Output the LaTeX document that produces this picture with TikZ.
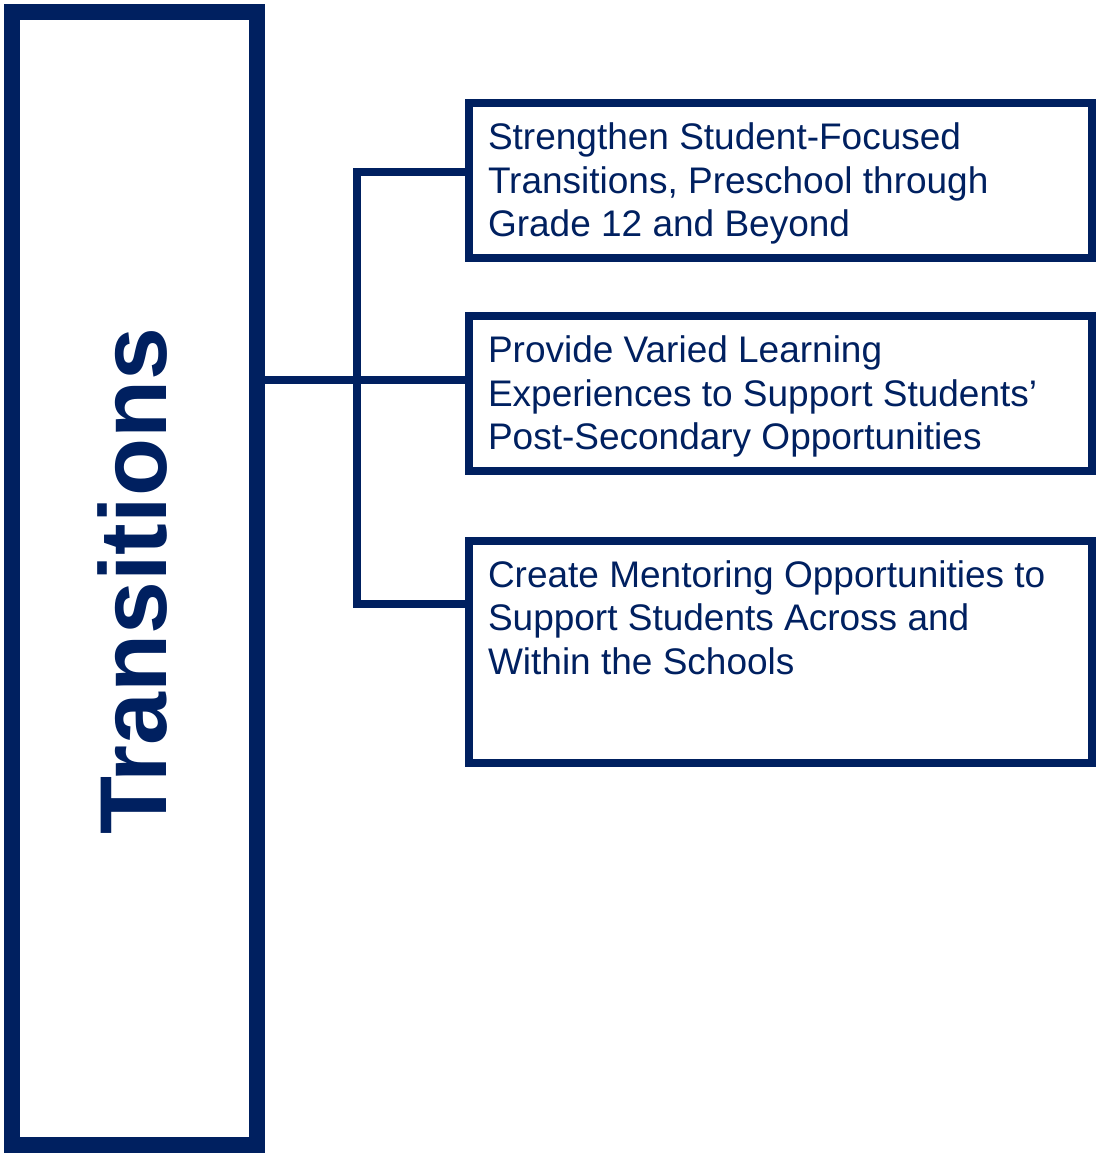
\documentclass[tikz,border=0pt]{standalone}
\usepackage{fontspec}
\setmainfont{Liberation Sans}
\definecolor{navy}{RGB}{0,32,96}
\newcommand{\goal}[2]{\parbox[c][#1][t]{585pt}{#2}}

\begin{document}
\begin{tikzpicture}[x=1pt, y=-1pt,
	topicbox/.style = {draw=navy, line width=16pt, minimum width=245pt, minimum height=1133pt, inner sep=0pt},
	goalbox/.style = {draw=navy, line width=8pt, anchor=north west, inner xsep=19pt, inner ysep=20pt, text=navy, font=\fontsize{37}{43.4}\selectfont},
	link/.style = {draw=navy, line width=7.5pt}]
	\useasboundingbox (0,0) rectangle (1095,1153);
	% topic
	\node[topicbox] (topic) at (134.5,578.5) {};
	\node[rotate=90, text=navy, font=\fontsize{95}{95}\selectfont\bfseries] (title) at (132.5,581.5) {Transitions};
	% goals
	\node[goalbox] (g1) at (465,99) {\goal{115pt}{Strengthen Student-Focused\\ Transitions, Preschool through\\ Grade 12 and Beyond}};
	\node[goalbox] (g2) at (465,312) {\goal{114.5pt}{Provide Varied Learning\\ Experiences to Support Students’\\ Post-Secondary Opportunities}};
	\node[goalbox] (g3) at (465,536.5) {\goal{182.5pt}{Create Mentoring Opportunities to\\ Support Students Across and\\ Within the Schools}};
	% links
	\coordinate (hub) at (357,380);
	\coordinate (upper) at (357,172);
	\coordinate (lower) at (357,604);
	\draw[link] (topic.east |- hub) -- (hub -| g2.west);
	\draw[link] (upper -| g1.west) -- (upper) -- (lower) -- (lower -| g3.west);
\end{tikzpicture}
\end{document}
